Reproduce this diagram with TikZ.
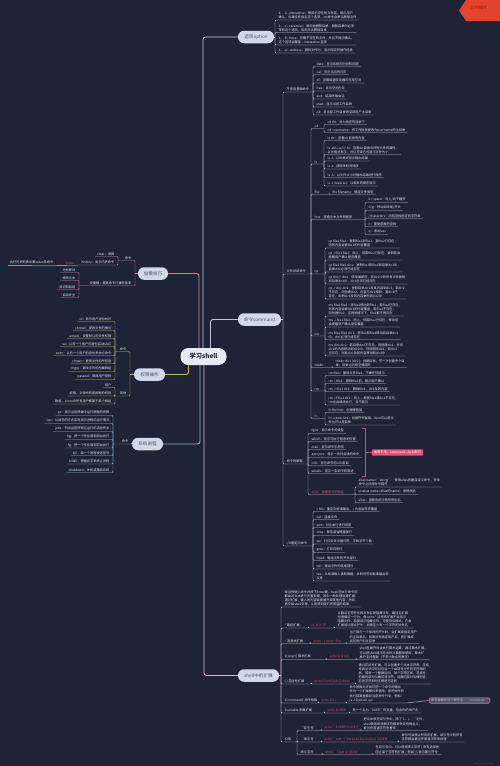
\documentclass[tikz,border=0pt]{standalone}
\usepackage{fontspec}
\setmainfont{Noto Sans CJK SC}
\definecolor{bgc}{HTML}{1F2336}
\definecolor{leaft}{HTML}{E4E7EF}
\definecolor{topicfill}{HTML}{D2D9E6}
\definecolor{topictext}{HTML}{4A5572}
\definecolor{rootfill}{HTML}{E6EBF3}
\definecolor{roottext}{HTML}{1F2336}
\definecolor{optc}{HTML}{C9CBD3}
\definecolor{cmdc}{HTML}{BFC3CE}
\definecolor{extc}{HTML}{D3BCD3}
\definecolor{lazyc}{HTML}{C98494}
\definecolor{permc}{HTML}{C7B46C}
\definecolor{procc}{HTML}{8DB3D1}
\definecolor{codered}{HTML}{E2506A}
\definecolor{hotpink}{HTML}{E8507C}
\definecolor{pinkline}{HTML}{C4507E}
\definecolor{badgec}{HTML}{E4442E}
\definecolor{badget}{HTML}{9E1A10}
\definecolor{boxfill}{HTML}{4A5466}
\definecolor{boxline}{HTML}{A0588A}
\definecolor{boxtext}{HTML}{9ED3D3}
\newcommand\fs{\fontsize{3.2}{4.2}\selectfont}
\newcommand\dd{-\kern0pt-}
% right leaf: [opt]{junction}{jx}{name}{underline y}{text}
\newcommand\mmR[6][]{%
  \node[lf,#1,anchor=south west] (#4) at (#3+1.5,#5) {#6};
  \draw[br] (#2) |- (#4.south west) -- (#4.south east);}
% right label with own junction at x=#7
\newcommand\mmRL[7][]{%
  \node[lf,#1,anchor=south west] (#4) at (#3+1.5,#5) {#6};
  \coordinate (#4j) at (#7,#5);
  \draw[br] (#2) |- (#4.south west) -- (#4j);}
\newcommand\mmL[6][]{%
  \node[lf,align=right,#1,anchor=south east] (#4) at (#3-1.5,#5) {#6};
  \draw[br] (#2) |- (#4.south east) -- (#4.south west);}
\newcommand\mmLL[7][]{%
  \node[lf,align=right,#1,anchor=south east] (#4) at (#3-1.5,#5) {#6};
  \coordinate (#4j) at (#7,#5);
  \draw[br] (#2) |- (#4.south east) -- (#4j);}
\begin{document}
\begin{tikzpicture}[x=1pt,y=-1pt,
  lf/.style={font=\fs,text=leaft,inner xsep=2pt,inner ysep=0.7pt,align=left},
  topic/.style={fill=topicfill,text=topictext,font=\fontsize{4.6}{5}\selectfont,rounded corners=6pt,minimum height=12.5pt,inner xsep=1pt,inner ysep=0pt},
  rootn/.style={fill=rootfill,text=roottext,font=\fontsize{6.3}{7}\selectfont\bfseries,rounded corners=8pt,minimum width=46pt,minimum height=17pt,inner sep=0pt},
  main/.style={line width=0.9pt,rounded corners=2.5pt},
  br/.style={draw=optc,line width=0.45pt,rounded corners=1pt}]
\useasboundingbox (0,0) rectangle (500,766);
\fill[bgc] (0,0) rectangle (500,766);

% badge
\fill[badgec] (459,10.5) -- (466,0) -- (500,0) -- (500,21) -- (466,21) -- cycle;
\node[text=badget,font=\fontsize{4.2}{5}\selectfont,inner sep=0pt] (badge) at (479,7.5) {试用模式};

% main nodes
\node[rootn] (root) at (203.5,356.5) {学习shell};
\node[topic,minimum width=36pt] (opt) at (256,37) {选项option};
\node[topic,minimum width=43pt] (cmd) at (259.5,319.5) {命令command};
\node[topic,minimum width=41pt] (ext) at (258.5,675.5) {shell中的扩展};
\node[topic,minimum width=30pt] (lazy) at (153,273.5) {偷懒技巧};
\node[topic,minimum width=31pt] (perm) at (149.5,374.5) {权限操作};
\node[topic,minimum width=31pt] (proc) at (147.5,444) {系统进程};

% main connectors
\draw[main,optc] ([xshift=-0.5pt]root.north) |- (opt.west);
\draw[main,lazyc] ([xshift=-4.5pt]root.north) |- (lazy.east);
\draw[main,cmdc] ([xshift=7pt]root.north) |- (cmd.west);
\draw[main,procc] ([xshift=-3.5pt]root.south) |- (proc.east);
\draw[main,permc] ([xshift=-15pt]root.south) |- (perm.east);
\draw[main,extc] ([xshift=0.5pt]root.south) |- (ext.west);

% ---------- 选项option ----------
\begin{scope}[br/.style={draw=optc,line width=0.45pt,rounded corners=1pt}]
\coordinate (optj) at (275,37);
\draw[br] (opt.east) -- (optj);
\mmR{optj}{275}{o1}{20}{1、-i/\dd interactive：删除已存在的文件前，提示用户\\确认。如果没有指定这个选项，rm命令会默认删除文件}
\mmR{optj}{275}{o2}{32.5}{2、-r/\dd recursive：递归地删除目录，删除目录时必须\\带有这个选项，否则无法删除目录}
\mmR{optj}{275}{o3}{45}{3、-f/\dd force：忽略不存在的文件，并且不提示确认，\\这个选项会覆盖 \dd interactive 选项}
\mmR{optj}{275}{o4}{53}{4、-v/\dd verbose：删除文件时，显示翔实的操作信息}
\end{scope}

% ---------- 命令command ----------
\begin{scope}[br/.style={draw=cmdc,line width=0.45pt,rounded corners=1pt}]
\coordinate (cmdj) at (283,319.5);
\draw[br] (cmd.east) -- (cmdj);
\mmRL{cmdj}{283}{c1}{92}{不常用基础命令}{313}
\mmR{c1j}{313}{b1}{66.5}{date：显示系统的时间和日期}
\mmR{c1j}{313}{b2}{74.5}{cal：显示当月的日历}
\mmR{c1j}{313}{b3}{83}{df：查看磁盘驱动器的可用空间}
\mmR{c1j}{313}{b4}{91}{free：显示空闲内存}
\mmR{c1j}{313}{b5}{99}{exit：结束终端会话}
\mmR{c1j}{313}{b6}{107}{pwd：显示当前工作目录}
\mmR{c1j}{313}{b7}{115}{cd：将当前工作目录改变到用户主目录}

\mmRL{cmdj}{283}{c2}{274}{文件系统命令}{311}
\mmRL{c2j}{311}{fcd}{128.5}{cd}{324}
\mmR{fcdj}{324}{cd1}{124.5}{cd dir：进入指定的目录下}
\mmR{fcdj}{324}{cd2}{132.5}{cd \textasciitilde username：将工作目录更改为username的主目录}
\mmRL{c2j}{311}{fls}{164}{ls}{324}
\mmR{flsj}{324}{l1}{140.5}{ls dir：查看dir目录的内容}
\mmR{flsj}{324}{l2}{154.5}{ls -alh (-a/-l/-h)：查看dir目录中所有文件的属性，\\以长格式显示，并以可读方式显示文件大小}
\mmR{flsj}{324}{l3}{161}{ls -l：以长格式显示输出结果}
\mmR{flsj}{324}{l4}{169}{ls -t：按修改时间排序}
\mmR{flsj}{324}{l5}{177.5}{ls -S：以文件大小对输出结果进行排序}
\mmR{flsj}{324}{l6}{186}{ls -r (reverse)：以相反的顺序显示}
\mmRL{c2j}{311}{ffile}{194.5}{file}{329}
\mmR{ffilej}{329}{file1}{194.5}{file filename：确定文件类型}
\mmRL{c2j}{311}{fless}{219.5}{less：查看文本文件的程序}{365}
\mmR{flessj}{365}{ls1}{202.5}{b / space：向上/向下翻页}
\mmR{flessj}{365}{ls2}{210.5}{G/g：移动到末尾/开头}
\mmR{flessj}{365}{ls3}{218.5}{/characters：向前查找指定的字符串}
\mmR{flessj}{365}{ls4}{226.5}{n：重复前面的查找}
\mmR{flessj}{365}{ls5}{234.5}{q：退出less}
\mmRL{c2j}{311}{fcp}{274}{cp}{325}
\mmR{fcpj}{325}{cp1}{248}{cp file1 file2：复制file1到file2，若file2已存在，\\则其内容会被file1的内容覆盖}
\mmR{fcpj}{325}{cp2}{260}{cp -i file1 file2：同上，但若file2已存在，复制前会\\提醒用户确认是否覆盖}
\mmR{fcpj}{325}{cp3}{272}{cp file1 file2 dir1：复制file1和file2到目录dir1中，\\目录dir1必须已经存在}
\mmR{fcpj}{325}{cp4}{284}{cp dir1/* dir2：使用通配符，将dir1中的所有文件复制\\到目录dir2中，dir2必须已经存在}
\mmR{fcpj}{325}{cp5}{299}{cp -r dir1 dir2：复制目录dir1及其内容到dir2，若dir2\\不存在，则创建dir2，内容与dir1相同；若dir2已\\存在，则把dir1及其内容复制到dir2中}
\mmRL{c2j}{311}{fmv}{336}{mv}{325}
\mmR{fmvj}{325}{mv1}{316}{mv file1 file2：将file1移动到file2，若file2已存在，\\则其内容会被file1的内容覆盖；若file2不存在，\\则创建file2。这两种情况下，file1都不再存在}
\mmR{fmvj}{325}{mv2}{327}{mv -i file1 file2：同上，但若file2已存在，移动前\\会提醒用户确认是否覆盖}
\mmR{fmvj}{325}{mv3}{339.5}{mv file1 file2 dir1：将file1和file2移动到目录dir1\\中，dir1必须已经存在}
\mmR{fmvj}{325}{mv4}{356}{mv dir1 dir2：若目录dir2不存在，则创建dir2，并将\\dir1的内容移动到dir2中，同时删除dir1；若dir2\\已存在，则将dir1及其内容移动到dir2中}
\mmRL{c2j}{311}{fmk}{367.5}{mkdir}{332}
\mmR{fmkj}{332}{mk1}{367.5}{mkdir dir1 [dir2]：创建目录，可一次创建多个目\\录，目录之间用空格隔开}
\mmRL{c2j}{311}{frm}{391}{rm}{325}
\mmR{frmj}{325}{rm1}{375.5}{rm file1：删除文件file1，不做任何提示}
\mmR{frmj}{325}{rm2}{383.5}{rm -i file1：删除file1前，提示用户确认}
\mmR{frmj}{325}{rm3}{391.5}{rm -r file1 dir1：删除file1，dir1及其内容}
\mmR{frmj}{325}{rm4}{405}{rm -rf file1 dir1：同上，即使file1或dir1不存在，\\rm也会继续执行，且不提示}
\mmRL{c2j}{311}{fln}{418.5}{ln}{325}
\mmR{flnj}{325}{ln1}{412.5}{ln file link：创建硬链接}
\mmR{flnj}{325}{ln2}{425}{ln -s item link：创建符号链接，item可以是文\\件也可以是目录}

\mmRL{cmdj}{283}{c3}{464}{命令的解释}{308}
\mmR{c3j}{308}{t1}{433.5}{type：显示命令的类型}
\mmR{c3j}{308}{t2}{441.5}{which：显示可执行程序的位置}
\mmR{c3j}{308}{t3}{449.5}{man：显示命令手册页}
\mmR{c3j}{308}{t4}{457.5}{apropos：显示一系列合适的命令}
\mmR{c3j}{308}{t5}{465.5}{info：显示命令的info条目}
\mmR{c3j}{308}{t6}{473.5}{whatis：显示一条命令的简述}
\mmRL[text=codered]{c3j}{308}{t7}{494.5}{alias：创建命令的别名}{355}
\mmR{t7j}{355}{a1}{487}{alias name='string'：使用alias创建自定义命令，多条\\命令之间用分号隔开}
\mmR{t7j}{355}{a2}{494.5}{unalias name (alias的name)：删除别名}
\mmR{t7j}{355}{a3}{502.5}{alias：查看系统中的所有别名}

\mmRL{cmdj}{283}{c4}{546}{I/O重定向命令}{313}
\mmR{c4j}{313}{r0}{511.5}{> file：重定向标准输出，>> 为追加而非覆盖}
\mmR{c4j}{313}{r1}{519.5}{cat：连接文件}
\mmR{c4j}{313}{r2}{527.5}{sort：对文本行进行排序}
\mmR{c4j}{313}{r3}{535.5}{uniq：报告或省略重复行}
\mmR{c4j}{313}{r4}{544}{wc：打印文件中换行符、字和字节个数}
\mmR{c4j}{313}{r5}{552.5}{grep：打印匹配行}
\mmR{c4j}{313}{r6}{560.5}{head：输出文件的开头部分}
\mmR{c4j}{313}{r7}{569}{tail：输出文件的结尾部分}
\mmR{c4j}{313}{r8}{581}{tee：从标准输入读取数据，并同时写到标准输出和\\文件}
\end{scope}

% summary bracket and pink box
\coordinate (brt) at (362,428);
\coordinate (brb) at (362,476);
\coordinate (brm) at (365.5,452.5);
\node[fill=hotpink,text=white,font=\fs,inner xsep=2pt,inner ysep=1.3pt,rounded corners=0.8pt] (sumbox) at (397.5,452.5) {通常不用，command \dd help即可};
\draw[pinkline,line width=0.6pt] (brt) -| (brm) |- (brb);
\draw[pinkline,line width=0.6pt] (brm) -- (sumbox.west);

% ---------- shell中的扩展 ----------
\begin{scope}[br/.style={draw=extc,line width=0.45pt,rounded corners=1pt}]
\coordinate (extj) at (281,675.5);
\draw[br] (ext.east) -- (extj);
\mmR{extj}{281}{e0}{607}{每当你键入命令并按下Enter键，bash在执行命令前\\都会对文本进行多重处理，其中一种处理就是扩展。\\通过扩展，输入的内容会被展开成其他内容，然后\\再交给shell处理，从而得到我们所期望的结果}
\mmRL{extj}{281}{e1}{628}{* 路径扩展}{308}
\mmRL[text=codered]{e1j}{308}{e1c}{628}{ls -d .[!.]?*}{334}
\mmR{e1cj}{334}{e1d}{628}{以圆点字符开头的文件名是隐藏文件，路径名扩展\\也遵循这一行为，像 echo * 这样的扩展不会显示\\隐藏文件。若要显示隐藏文件，可使用该模式，它会\\扩展成以圆点开头、后面至少有一个字符的文件名}
\mmRL{extj}{281}{e2}{643.5}{\textasciitilde{} 波浪线扩展}{310}
\mmRL[text=codered]{e2j}{310}{e2c}{643.5}{echo \textasciitilde{} / echo \textasciitilde foo}{346}
\mmR{e2cj}{346}{e2d}{643.5}{当它用在一个单词的开头时，会扩展成指定用户\\的主目录名；如果没有指定用户名，则扩展成\\当前用户的主目录}
\mmRL{extj}{281}{e3}{659.5}{\$((expr)) 算术扩展}{326}
\mmRL[text=codered]{e3j}{326}{e3c}{659.5}{echo \$((2+2))}{356}
\mmR{e3cj}{356}{e3d}{659.5}{shell在展开时会执行算术运算，通过算术扩展，\\可以把shell提示符当作计算器来使用，算术扩\\展只支持整数（不带小数点的数字）}
\mmRL{extj}{281}{e4}{684}{\{ \} 花括号扩展}{311}
\mmRL[text=codered]{e4j}{311}{e4c}{684}{echo Front-\{A,B,C\}-Back}{355}
\mmR{e4cj}{355}{e4d}{684}{通过花括号扩展，可以创建多个文本字符串。花括\\号表达式中可以包含一个由逗号分开的字符串列\\表，或者一个整数区间、单个字符区间。花括号\\前面的部分叫做前导字符，后面的部分叫做附言，\\前导字符和附言都是可选的}
\mmRL{extj}{281}{e5}{703}{\$(command) 命令替换}{318}
\mmRL[text=codered]{e5j}{318}{e5c}{703}{echo \$(ls)}{346}
\mmR{e5cj}{346}{e5d}{703}{命令替换允许我们把一个命令的输出\\作为一个扩展模式来使用，即把命令的\\执行结果替换到当前命令行中，例如：\\ls -l \$(which cp)}
\mmRL{extj}{281}{e6}{713}{\$variable 参数扩展}{324}
\mmRL[text=codered]{e6j}{324}{e6c}{713}{echo \$USER}{349}
\mmR{e6cj}{349}{e6d}{713}{有一个名为“USER”的变量，包含你的用户名}
\mmRL{extj}{281}{e7}{742}{引用}{297}
\mmRL{e7j}{297}{q1}{730.5}{“双引号”}{321}
\mmRL[text=codered]{q1j}{321}{q1c}{730.5}{echo "\$USER \$((2+2))"}{360}
\mmR{q1cj}{360}{q1d}{730.5}{把文本放在双引号中，除了 \$、\textbackslash{}、` 之外，\\shell使用的特殊字符都将失去特殊含义，\\被当作普通字符来看待}
\mmRL{e7j}{297}{q2}{742}{‘单引号’}{321}
\mmRL[text=codered]{q2j}{321}{q2c}{742}{echo 'text \textasciitilde/*.txt \{a,b\} \$(echo foo) \$USER'}{398}
\mmR{q2cj}{398}{q2d}{742}{单引号会禁止所有的扩展，单引号中的所有\\字符都会被当作普通字符来处理}
\mmRL{e7j}{297}{q3}{754.5}{转义字符}{322}
\mmRL[text=codered]{q3j}{322}{q3c}{754.5}{echo "Total is \textbackslash\$5.00"}{372}
\mmR{q3cj}{372}{q3d}{754.5}{在双引号中，可以使用转义字符 \textbackslash{} 来有选择地\\阻止某个字符的扩展，例如 \textbackslash\$ 表示美元符号}
\end{scope}
\node[draw=boxline,line width=1.1pt,fill=boxfill,text=boxtext,font=\fs,rounded corners=2pt,inner xsep=2pt,inner ysep=1.2pt] (cbox) at (459.5,700.5) {命令替换的另一种写法：`command`};
\draw[extc,line width=0.45pt] (e5d.south east) -- (cbox.west);
\node[font=\fontsize{2}{2}\selectfont,text=gray!55!bgc,inner sep=0pt] (wm) at (484,763.5) {https://blog.csdn.net/};

% ---------- 偷懒技巧 ----------
\begin{scope}[br/.style={draw=lazyc,line width=0.45pt,rounded corners=1pt}]
\coordinate (lazyj) at (135,273.5);
\draw[br] (lazy.west) -- (lazyj);
\mmLL{lazyj}{135}{lz1}{260.5}{命令}{118}
\mmL{lz1j}{118}{lz1a}{256.5}{clear：清屏}
\mmLL{lz1j}{118}{lz1b}{265}{history：显示历史命令}{78}
\mmLL{lazyj}{135}{lz2}{285.5}{快捷键，提高命令行操作效率}{79}
\mmL{lz2j}{79}{k1}{272.5}{光标移动}
\mmL{lz2j}{79}{k2}{280.5}{修改文本}
\mmL{lz2j}{79}{k3}{289.5}{剪切和粘贴}
\mmL{lz2j}{79}{k4}{297.5}{自动补全}
\end{scope}
\begin{scope}[br/.style={draw=codered!85!white,line width=0.45pt}]
\mmLL[text=codered]{lz1bj}{78}{lz1c}{265}{!index}{57}
\mmL{lz1cj}{57}{lz1d}{265}{执行历史列表中第index条命令}
\end{scope}

% ---------- 权限操作 ----------
\begin{scope}[br/.style={draw=permc,line width=0.45pt,rounded corners=1pt}]
\coordinate (permj) at (130,374.5);
\draw[br] (perm.west) -- (permj);
\mmLL{permj}{130}{pm1}{351.5}{命令}{115}
\mmL{pm1j}{115}{p1}{321.5}{id：显示用户身份标识}
\mmL{pm1j}{115}{p2}{330.5}{chmod：更改文件的模式}
\mmL{pm1j}{115}{p3}{338.5}{umask：设置默认的文件权限}
\mmL{pm1j}{115}{p4}{346.5}{su：以另一个用户的身份启动shell}
\mmL{pm1j}{115}{p5}{355.5}{sudo：以另一个用户的身份来执行命令}
\mmL{pm1j}{115}{p6}{363.5}{chown：更改文件的所有者}
\mmL{pm1j}{115}{p7}{371.5}{chgrp：更改文件的所属群组}
\mmL{pm1j}{115}{p8}{379.5}{passwd：更改用户密码}
\mmLL{permj}{130}{pm2}{396}{其他}{115}
\mmL{pm2j}{115}{p9}{387.5}{用户}
\mmL{pm2j}{115}{p10}{396}{权限，文件所有者拥有的权限}
\mmL{pm2j}{115}{p11}{404}{群组，Linux中所有用户都属于某个群组}
\end{scope}

% ---------- 系统进程 ----------
\begin{scope}[br/.style={draw=procc,line width=0.45pt,rounded corners=1pt}]
\coordinate (procj) at (132,444);
\mmLL{procj}{132}{pc1}{444}{命令}{113}
\draw[br] (proc.west) -- (procj);
\mmL{pc1j}{113}{s1}{415.5}{ps：显示当前终端中运行进程的快照}
\mmL{pc1j}{113}{s2}{423.5}{top：以动态的方式实时显示进程的运行情况}
\mmL{pc1j}{113}{s3}{431.5}{jobs：列出当前所有在运行的活动作业}
\mmL{pc1j}{113}{s4}{439.5}{bg：把一个作业放到后台执行}
\mmL{pc1j}{113}{s5}{448}{fg：把一个作业放到前台执行}
\mmL{pc1j}{113}{s6}{455.5}{kill：给一个进程发送信号}
\mmL{pc1j}{113}{s7}{464}{killall：根据名字来终止进程}
\mmL{pc1j}{113}{s8}{472.5}{shutdown：关机或重启系统}
\end{scope}
\end{tikzpicture}
\end{document}
